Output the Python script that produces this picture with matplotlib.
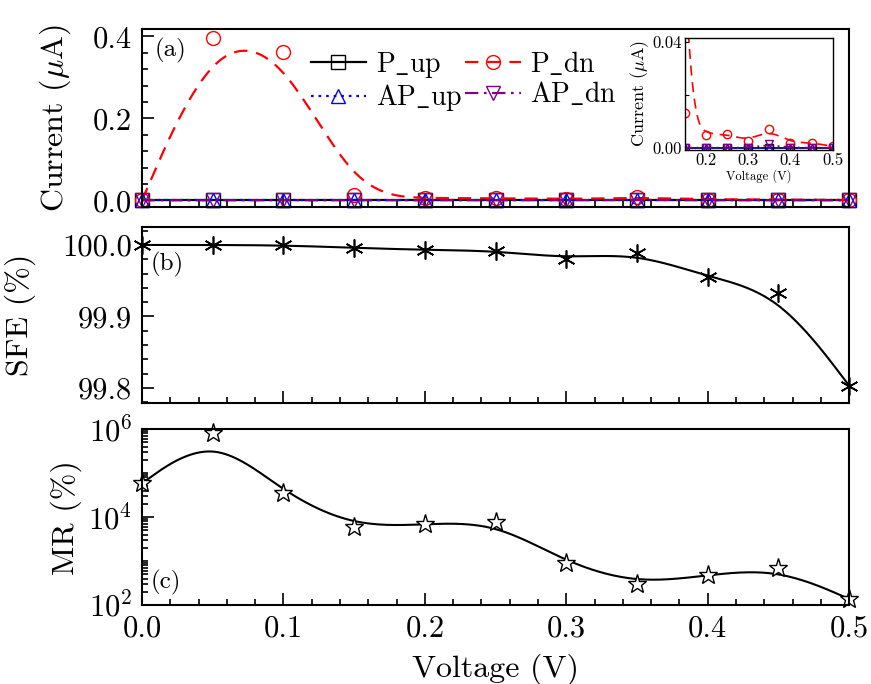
import numpy as np
import matplotlib
matplotlib.use("Agg")
import matplotlib.pyplot as plt
from matplotlib.ticker import MultipleLocator, FormatStrFormatter, LogLocator, NullFormatter

plt.rcParams["font.family"] = ["cmr10", "DejaVu Serif"]
plt.rcParams["mathtext.fontset"] = "cm"
plt.rcParams["axes.formatter.use_mathtext"] = True
plt.rcParams["axes.linewidth"] = 1.5

# data
voltage = [0.0, 0.05, 0.10, 0.15, 0.20, 0.25, 0.30, 0.35, 0.40, 0.45, 0.50]
p_up = [0.0, 0.0, 0.0, 0.0, 0.0, 0.0, 0.0, 0.0, 0.0, 0.0, 0.0]
p_dn = [0.0, 0.397, 0.363, 0.013, 0.0047, 0.0053, 0.0024, 0.0069, 0.0019, 0.0019, 0.0005]
ap_up = [0.0, 0.0, 0.0, 0.0, 0.0, 0.0, 0.0, 0.0, 0.0, 0.0, 0.0]
ap_dn = [0.0, 0.0, 0.0, 0.0, 0.0, 0.0, 0.0, 0.0012, 0.0, 0.0, 0.0]
sfe = [100.0, 100.0, 99.9995, 99.996, 99.993, 99.992, 99.981, 99.989, 99.955, 99.933, 99.803]
mr = [5.9e4, 8.1e5, 3.5e4, 5.9e3, 6.9e3, 7.8e3, 9.0e2, 3.0e2, 4.8e2, 6.9e2, 1.37e2]


def bspline(x, y, n=40):
    """uniform cubic B-spline, data as control points, end points tripled"""
    P = np.column_stack([x, y]).astype(float)
    Q = np.vstack([P[:1], P[:1], P, P[-1:], P[-1:]])
    u = np.linspace(0, 1, n)[:, None]
    b0 = (1 - u) ** 3 / 6
    b1 = (3 * u**3 - 6 * u**2 + 4) / 6
    b2 = (-3 * u**3 + 3 * u**2 + 3 * u + 1) / 6
    b3 = u**3 / 6
    segs = [b0 * Q[i] + b1 * Q[i + 1] + b2 * Q[i + 2] + b3 * Q[i + 3]
            for i in range(len(Q) - 3)]
    c = np.vstack(segs)
    return c[:, 0], c[:, 1]


def style(ax):
    ax.tick_params(which="both", direction="in", top=False, right=False, labelsize=22)
    ax.tick_params(which="major", length=8.5, width=1.2, pad=7)
    ax.tick_params(which="minor", length=4.5, width=1.2)
    ax.set_xlim(0, 0.5)
    ax.xaxis.set_major_locator(MultipleLocator(0.1))
    ax.xaxis.set_minor_locator(MultipleLocator(0.02))


fig = plt.figure(figsize=(8.71, 6.84), dpi=100)
L, W = 0.163, 0.812
ax1 = fig.add_axes([L, 0.697, W, 0.260])
ax2 = fig.add_axes([L, 0.411, W, 0.257])
ax3 = fig.add_axes([L, 0.1155, W, 0.257])
ins = fig.add_axes([0.786, 0.781, 0.170, 0.164])

series = [
    (r"P$\_$up", p_up, "black", "-", "s"),
    (r"P$\_$dn", p_dn, "red", (0, (6, 4)), "o"),
    (r"AP$\_$up", ap_up, "blue", (0, (1.2, 2.2)), "^"),
    (r"AP$\_$dn", ap_dn, "purple", (0, (6, 2.5, 1.2, 2.5)), "v"),
]

# (a) current, main panel and inset
for ax, big in [(ax1, True), (ins, False)]:
    for name, vals, col, ls, mk in series:
        sx, sy = bspline(voltage, vals)
        ax.plot(sx, sy, color=col, ls=ls, lw=1.6 if big else 1.2)
        ax.plot(voltage, vals, ls="none", marker=mk, ms=10 if big else 6,
                mfc="none", mec=col, mew=1.0, clip_on=not big)

handles = {}
for name, vals, col, ls, mk in series:
    handles[name], = ax1.plot([], [], color=col, ls=ls, lw=1.6, marker=mk, ms=10,
                              mfc="none", mec=col, mew=1.0)
order = [series[0][0], series[2][0], series[1][0], series[3][0]]
ax1.legend([handles[k] for k in order], order, ncol=2, loc="upper left",
           bbox_to_anchor=(0.215, 0.98), frameon=False, fontsize=20,
           handlelength=2.0, handletextpad=0.35, columnspacing=0.1,
           labelspacing=0.1, borderaxespad=0.2)

style(ax1)
ax1.set_ylim(-0.017, 0.417)
ax1.yaxis.set_major_locator(MultipleLocator(0.2))
ax1.yaxis.set_minor_locator(MultipleLocator(0.04))
ax1.yaxis.set_major_formatter(FormatStrFormatter("%.1f"))
ax1.tick_params(axis="x", labelbottom=False)
ax1.set_ylabel(r"Current ($\mu$A)", fontsize=23)
ax1.yaxis.set_label_coords(-0.097, 0.5)
ax1.text(0.018, 0.95, "(a)", transform=ax1.transAxes, fontsize=18, va="top")

ins.set_xlim(0.15, 0.5)
ins.set_ylim(-0.0008, 0.0415)
ins.tick_params(which="both", direction="in", labelsize=12, pad=2)
ins.tick_params(which="major", length=3, width=0.8)
ins.tick_params(which="minor", length=3, width=0.8)
ins.xaxis.set_major_locator(MultipleLocator(0.1))
ins.yaxis.set_major_locator(MultipleLocator(0.04))
ins.yaxis.set_minor_locator(MultipleLocator(0.02))
ins.yaxis.set_major_formatter(FormatStrFormatter("%.2f"))
ins.xaxis.set_major_formatter(FormatStrFormatter("%.1f"))
ins.set_ylabel(r"Current ($\mu$A)", fontsize=13, labelpad=1)
ins.set_xlabel("Voltage (V)", fontsize=9, labelpad=1)
for s in ins.spines.values():
    s.set_linewidth(1.0)

# (b) SFE
sx, sy = bspline(voltage, sfe)
ax2.plot(sx, sy, color="black", lw=1.5)
ax2.plot(voltage, sfe, ls="none", marker=(6, 2, 0), ms=13, mec="black", mew=1.2,
         clip_on=False)
style(ax2)
ax2.set_ylim(99.779, 100.025)
ax2.yaxis.set_major_locator(MultipleLocator(0.1))
ax2.yaxis.set_minor_locator(MultipleLocator(0.02))
ax2.yaxis.set_major_formatter(FormatStrFormatter("%.1f"))
ax2.tick_params(axis="x", labelbottom=False)
ax2.set_ylabel("SFE (%)", fontsize=23)
ax2.yaxis.set_label_coords(-0.15, 0.5)
ax2.text(0.012, 0.86, "(b)", transform=ax2.transAxes, fontsize=18, va="top")

# (c) MR, smoothed in log space
sx, sy = bspline(voltage, np.log10(mr))
ax3.plot(sx, 10 ** sy, color="black", lw=1.5)
ax3.plot(voltage, mr, ls="none", marker="*", ms=14, mfc="white", mec="black",
         mew=1.0, clip_on=False)
style(ax3)
ax3.set_yscale("log")
ax3.set_ylim(1e2, 1e6)
ax3.yaxis.set_major_locator(LogLocator(base=100))
ax3.yaxis.set_minor_locator(LogLocator(base=10, subs=np.arange(1, 10), numticks=20))
ax3.yaxis.set_minor_formatter(NullFormatter())
ax3.xaxis.set_major_formatter(FormatStrFormatter("%.1f"))
ax3.set_ylabel("MR (%)", fontsize=23)
ax3.yaxis.set_label_coords(-0.085, 0.5)
ax3.set_xlabel("Voltage (V)", fontsize=23, labelpad=8)
ax3.text(0.012, 0.2, "(c)", transform=ax3.transAxes, fontsize=18, va="top")

fig.savefig("out.png", dpi=100)
